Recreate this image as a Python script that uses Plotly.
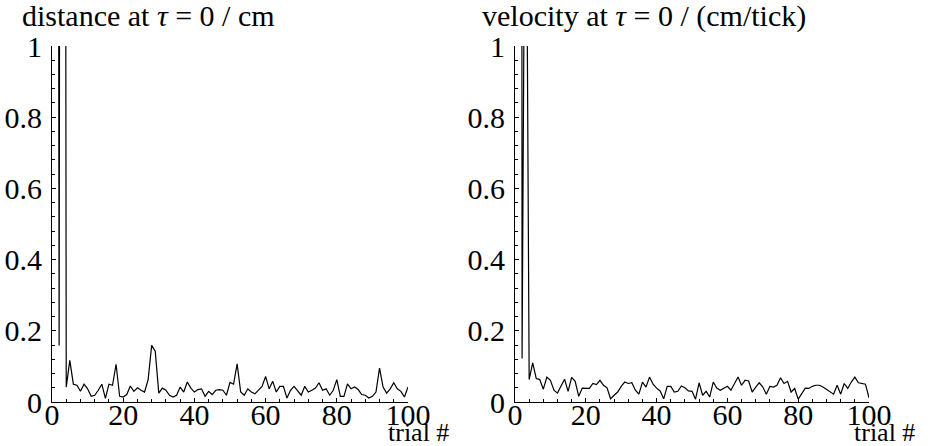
import plotly.graph_objects as go

trials = list(range(1, 101))

distance = [
    8.0, 0.159, 8.0, 0.042, 0.117, 0.050, 0.047, 0.030, 0.050, 0.037,
    0.016, 0.019, 0.033, 0.050, 0.010, 0.050, 0.047, 0.106, 0.016, 0.014,
    0.021, 0.045, 0.030, 0.040, 0.033, 0.028, 0.063, 0.159, 0.143, 0.025,
    0.039, 0.033, 0.019, 0.014, 0.019, 0.042, 0.028, 0.056, 0.039, 0.028,
    0.035, 0.037, 0.016, 0.030, 0.021, 0.033, 0.035, 0.033, 0.019, 0.055,
    0.050, 0.107, 0.028, 0.019, 0.037, 0.028, 0.023, 0.033, 0.044, 0.072,
    0.037, 0.058, 0.028, 0.044, 0.044, 0.011, 0.033, 0.044, 0.033, 0.019,
    0.044, 0.028, 0.033, 0.039, 0.054, 0.033, 0.037, 0.019, 0.033, 0.063,
    0.016, 0.016, 0.051, 0.037, 0.042, 0.035, 0.021, 0.019, 0.011, 0.016,
    0.028, 0.095, 0.042, 0.025, 0.037, 0.054, 0.037, 0.030, 0.014, 0.042,
]

velocity = [
    20.0, 0.122, 1.9, 0.063, 0.110, 0.066, 0.063, 0.036, 0.070, 0.061,
    0.033, 0.025, 0.045, 0.064, 0.030, 0.069, 0.058, 0.016, 0.039, 0.038,
    0.038, 0.052, 0.049, 0.061, 0.047, 0.040, 0.009, 0.019, 0.028, 0.044,
    0.056, 0.052, 0.054, 0.033, 0.022, 0.056, 0.042, 0.070, 0.050, 0.039,
    0.031, 0.009, 0.044, 0.044, 0.028, 0.030, 0.045, 0.040, 0.031, 0.030,
    0.008, 0.054, 0.019, 0.030, 0.014, 0.056, 0.039, 0.033, 0.038, 0.044,
    0.033, 0.050, 0.070, 0.047, 0.061, 0.059, 0.028, 0.042, 0.054, 0.042,
    0.022, 0.044, 0.042, 0.047, 0.068, 0.052, 0.058, 0.028, 0.038, 0.008,
    0.025, 0.039, 0.038, 0.044, 0.047, 0.047, 0.042, 0.036, 0.028, 0.022,
    0.047, 0.022, 0.052, 0.038, 0.056, 0.070, 0.054, 0.052, 0.050, 0.012,
]

x_ticks = [0, 20, 40, 60, 80, 100]
y_ticks = [0, 0.2, 0.4, 0.6, 0.8, 1]
y_tick_text = ["0", "0.2", "0.4", "0.6", "0.8", "1"]
titles = ["distance at <i>τ</i> = 0 / cm", "velocity at <i>τ</i> = 0 / (cm/tick)"]
x_title = "trial #"

FONT = "Liberation Serif"
W, H = 936, 446


def px(x):
    return x / W


def py(y):
    return (H - y) / H


fig = go.Figure()
fig.add_trace(go.Scatter(x=trials, y=distance, mode="lines",
                         line=dict(color="black", width=1.2),
                         xaxis="x", yaxis="y", showlegend=False))
fig.add_trace(go.Scatter(x=trials, y=velocity, mode="lines",
                         line=dict(color="black", width=1.2),
                         xaxis="x2", yaxis="y2", showlegend=False))

ydom = [py(402), py(46)]


def xax(domain, anchor):
    return dict(domain=domain, range=[0, 100], anchor=anchor, automargin=False,
                showline=True, linecolor="black", linewidth=1,
                showgrid=False, zeroline=False,
                tickvals=x_ticks, ticktext=[str(v) for v in x_ticks],
                ticks="inside", ticklen=4, tickcolor="black",
                minor=dict(dtick=4, tick0=0, ticks="inside", ticklen=3, tickcolor="black"),
                ticklabelstandoff=-14,
                tickfont=dict(family=FONT, size=30, color="black"))


def yax(anchor):
    return dict(domain=ydom, range=[0, 1], anchor=anchor, automargin=False,
                showline=True, linecolor="black", linewidth=1,
                showgrid=False, zeroline=False,
                tickvals=y_ticks, ticktext=y_tick_text,
                ticks="inside", ticklen=4, tickcolor="black",
                minor=dict(dtick=0.04, tick0=0, ticks="inside", ticklen=3, tickcolor="black"),
                ticklabelstandoff=3,
                tickfont=dict(family=FONT, size=30, color="black"))


fig.update_layout(
    width=W, height=H,
    margin=dict(l=0, r=0, t=0, b=0, autoexpand=False),
    paper_bgcolor="white", plot_bgcolor="white",
    xaxis=xax([px(52), px(408)], "y"),
    yaxis=yax("x"),
    xaxis2=xax([px(515), px(869)], "y2"),
    yaxis2=yax("x2"),
    annotations=[
        dict(text=titles[0], x=px(20), y=py(16), xref="paper", yref="paper",
             xanchor="left", yanchor="middle", showarrow=False,
             font=dict(family=FONT, size=30, color="black")),
        dict(text=titles[1], x=px(480), y=py(16), xref="paper", yref="paper",
             xanchor="left", yanchor="middle", showarrow=False,
             font=dict(family=FONT, size=30, color="black")),
        dict(text=x_title, x=px(386), y=py(432), xref="paper", yref="paper",
             xanchor="left", yanchor="middle", showarrow=False,
             font=dict(family=FONT, size=26, color="black")),
        dict(text=x_title, x=px(852), y=py(432), xref="paper", yref="paper",
             xanchor="left", yanchor="middle", showarrow=False,
             font=dict(family=FONT, size=26, color="black")),
    ],
)

fig.write_html("out.html", config={"displayModeBar": False},
               post_script="document.body.style.margin='0';document.body.style.overflow='hidden';")
